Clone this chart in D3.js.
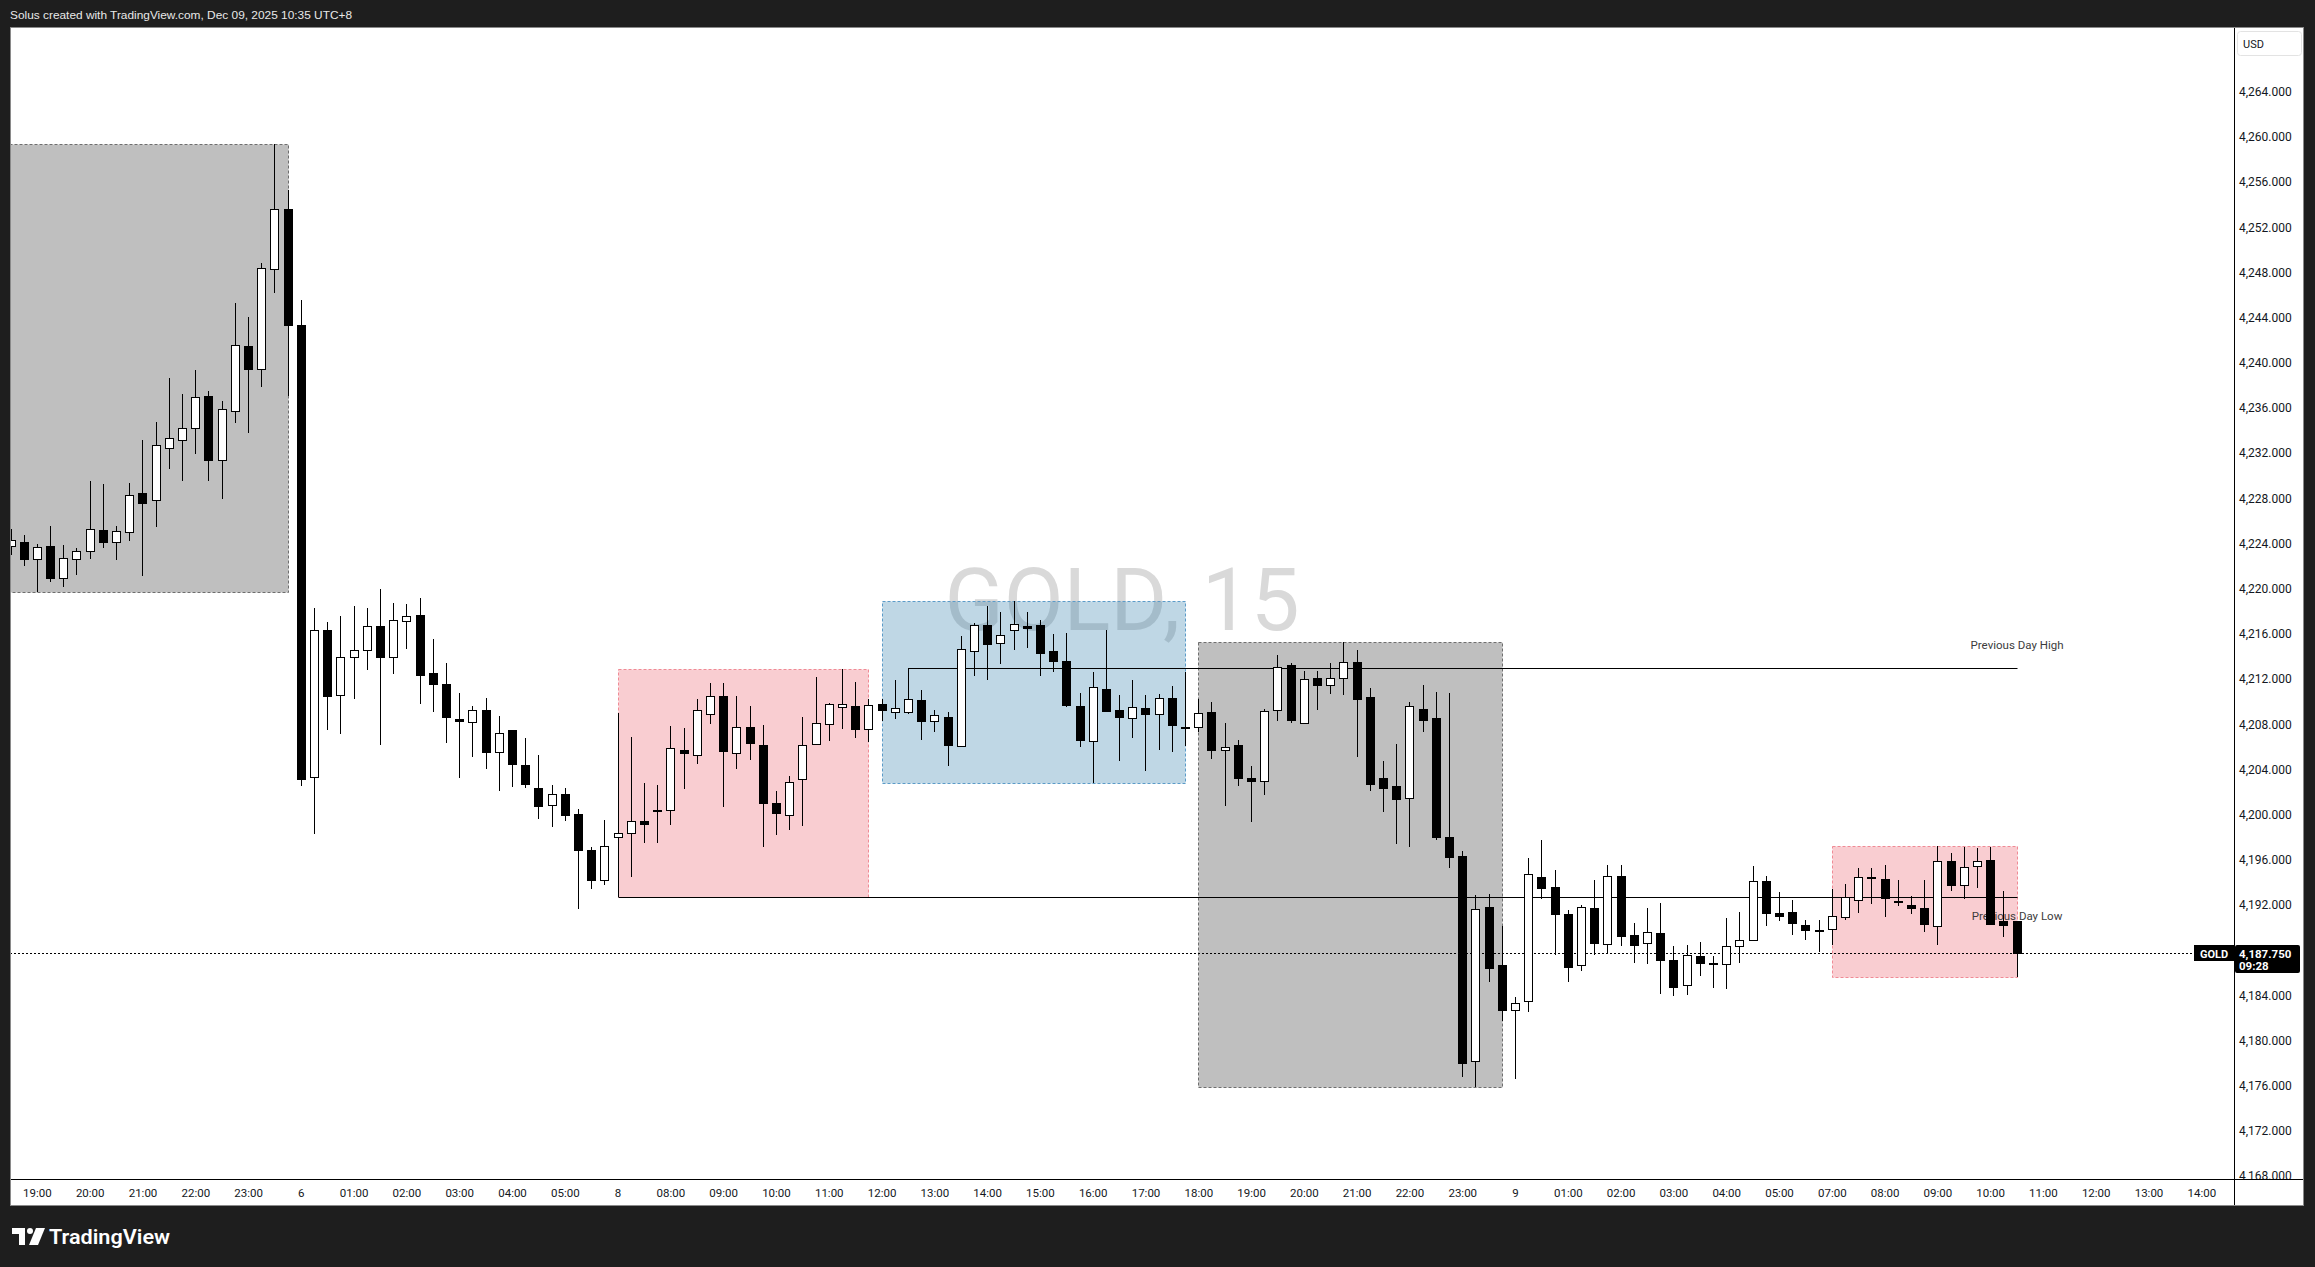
<!DOCTYPE html>
<html><head><meta charset="utf-8">
<script src="https://cdn.jsdelivr.net/npm/d3@7"></script>
<style>html,body{margin:0;padding:0;background:#1e1e1e;overflow:hidden}svg{display:block}</style>
</head><body><svg id="c" width="2315" height="1267"></svg>
<script>
// ---------------- DATA ----------------
const headerText = "Solus created with TradingView.com, Dec 09, 2025 10:35 UTC+8";
const symbol = "GOLD";
const interval = "15";
const currency = "USD";
const lastPrice = 4187.75;
const countdown = "09:28";
const firstBar = -2; // bar index of first candle (0 = Dec 5 19:00, 15-min bars)

const opens = [4223.79,4224.15,4222.61,4223.79,4220.94,4222.61,4223.34,4225.17,4224.11,4225.01,
 4228.47,4227.86,4232.46,4233.19,4234.21,4237.06,4231.40,4235.75,4241.49,4239.46,
 4248.33,4253.62,4243.32,4203.34,4216.38,4210.60,4213.96,4214.58,4216.67,4213.96,
 4217.15,4217.65,4212.57,4211.60,4208.50,4208.23,4209.30,4205.55,4207.53,4204.43,
 4202.39,4200.86,4201.86,4200.09,4196.90,4194.22,4198.05,4198.41,4199.47,4200.44,
 4200.41,4205.76,4205.23,4208.94,4210.54,4205.46,4207.79,4206.20,4201.06,4200.00,
 4203.19,4206.29,4208.06,4209.56,4209.65,4207.62,4209.83,4209.12,4209.12,4210.18,
 4208.32,4208.68,4206.11,4214.52,4216.82,4215.17,4216.38,4216.68,4216.82,4214.52,
 4213.64,4209.65,4206.52,4211.16,4209.30,4208.59,4209.47,4208.86,4210.36,4207.79,
 4207.71,4209.12,4205.76,4206.20,4203.28,4202.98,4209.30,4213.22,4208.15,4212.13,
 4211.51,4212.10,4213.55,4210.45,4203.28,4202.57,4201.51,4209.39,4208.59,4197.99,
 4196.37,4178.14,4191.80,4186.64,4182.68,4183.45,4194.51,4193.57,4191.24,4186.72,
 4191.77,4188.58,4194.60,4189.38,4188.67,4189.55,4187.16,4184.95,4187.52,4186.90,
 4186.81,4188.40,4188.93,4194.16,4191.27,4191.35,4190.26,4189.82,4189.91,4190.94,
 4192.45,4194.51,4194.33,4192.39,4192.03,4191.71,4190.17,4195.93,4193.80,4195.49,
 4196.02,4190.62,4190.56];
const highs = [4225.25,4224.77,4223.99,4225.58,4223.91,4223.63,4229.57,4229.28,4225.58,4229.37,
 4233.19,4234.78,4238.64,4237.26,4239.34,4237.46,4236.65,4245.32,4244.02,4248.82,
 4259.40,4255.29,4245.60,4218.27,4217.03,4217.56,4218.45,4218.27,4219.95,4218.71,
 4218.62,4219.15,4215.52,4213.40,4210.74,4209.65,4210.30,4208.71,4207.53,4206.76,
 4205.25,4202.60,4202.39,4200.47,4197.11,4199.50,4208.95,4206.85,4202.78,4202.66,
 4207.82,4207.65,4210.21,4211.63,4211.63,4210.48,4209.59,4207.97,4202.07,4203.45,
 4208.68,4212.22,4209.92,4212.93,4211.72,4210.27,4210.27,4211.90,4213.02,4211.01,
 4209.30,4209.12,4215.85,4217.00,4218.45,4217.97,4218.95,4217.92,4217.27,4216.03,
 4216.11,4210.80,4212.60,4216.38,4210.57,4211.90,4210.57,4210.66,4211.36,4212.60,
 4210.21,4209.95,4208.09,4206.64,4204.34,4209.36,4214.11,4213.46,4212.69,4212.69,
 4213.46,4215.32,4214.55,4211.19,4204.73,4206.29,4210.01,4211.45,4210.83,4210.75,
 4196.76,4192.92,4193.01,4190.12,4183.83,4196.13,4197.73,4195.07,4191.53,4191.97,
 4194.19,4195.51,4195.51,4190.38,4191.71,4192.15,4188.40,4188.49,4188.76,4187.52,
 4190.88,4191.35,4195.43,4194.54,4193.12,4192.42,4190.65,4190.65,4193.39,4193.83,
 4195.25,4195.25,4195.51,4194.19,4192.80,4194.19,4197.20,4196.58,4197.14,4197.02,
 4197.14,4193.21,4190.56];
const lows = [4222.97,4222.04,4219.68,4220.57,4220.13,4221.18,4222.61,4223.59,4222.53,4224.20,
 4221.10,4225.46,4230.59,4229.53,4231.93,4229.57,4227.94,4234.66,4233.76,4237.83,
 4246.17,4237.02,4202.50,4198.29,4207.47,4207.11,4210.24,4212.81,4206.17,4212.46,
 4214.67,4209.80,4209.09,4206.35,4203.25,4205.11,4204.04,4202.10,4202.45,4202.36,
 4199.62,4198.91,4199.44,4191.65,4193.42,4193.77,4192.67,4194.48,4197.49,4197.49,
 4199.09,4202.27,4204.49,4208.03,4200.68,4204.05,4204.84,4197.14,4198.20,4198.64,
 4199.00,4206.20,4206.52,4207.59,4206.79,4206.44,4208.32,4208.47,4208.90,4206.61,
 4207.32,4204.31,4206.00,4212.28,4211.87,4213.34,4214.58,4214.76,4212.28,4212.66,
 4209.53,4206.00,4202.81,4209.09,4204.75,4206.79,4203.87,4205.73,4205.55,4206.08,
 4207.29,4204.93,4200.77,4202.54,4199.35,4201.74,4208.30,4208.12,4208.15,4209.27,
 4210.66,4210.60,4205.11,4202.07,4200.24,4197.41,4197.14,4207.32,4197.73,4195.28,
 4176.78,4175.86,4185.19,4181.74,4176.60,4182.53,4192.56,4187.61,4185.19,4186.16,
 4187.55,4187.72,4188.34,4186.87,4186.78,4184.12,4183.95,4184.03,4185.72,4184.65,
 4184.57,4186.87,4188.93,4190.11,4190.56,4189.32,4188.90,4187.84,4188.43,4190.65,
 4191.27,4192.06,4190.91,4191.88,4191.18,4189.58,4188.43,4193.24,4192.56,4193.51,
 4190.32,4189.17,4185.66];
const closes = [4224.28,4222.61,4223.71,4220.94,4222.69,4223.34,4225.25,4224.11,4225.09,4228.27,
 4227.57,4232.70,4233.35,4234.21,4236.98,4231.40,4235.92,4241.57,4239.46,4248.41,
 4253.62,4243.37,4203.19,4216.38,4210.48,4213.99,4214.61,4216.73,4213.96,4217.27,
 4217.62,4212.37,4211.57,4208.65,4208.32,4209.30,4205.55,4207.26,4204.49,4202.72,
 4200.77,4201.86,4199.97,4196.87,4194.22,4197.26,4198.41,4199.47,4199.17,4200.44,
 4205.93,4205.46,4209.30,4210.54,4205.64,4207.79,4206.35,4201.06,4200.15,4202.92,
 4206.20,4208.15,4209.83,4209.83,4207.59,4209.74,4209.27,4209.47,4210.27,4208.32,
 4208.83,4206.20,4214.67,4216.82,4215.14,4215.94,4216.91,4216.56,4214.34,4213.61,
 4209.71,4206.61,4211.30,4209.18,4208.68,4209.56,4208.86,4210.36,4207.94,4207.79,
 4209.03,4205.73,4206.02,4203.28,4202.98,4209.21,4213.08,4208.38,4211.96,4211.48,
 4212.13,4213.55,4210.24,4202.72,4202.36,4201.39,4209.57,4208.38,4197.99,4196.26,
 4178.02,4191.68,4186.43,4182.74,4183.33,4194.78,4193.51,4191.21,4186.51,4191.86,
 4188.64,4194.60,4189.29,4188.46,4189.64,4187.13,4184.74,4187.58,4186.87,4186.78,
 4188.40,4188.93,4194.16,4191.30,4191.03,4190.41,4189.79,4189.82,4191.06,4192.74,
 4194.51,4194.51,4192.59,4192.27,4191.74,4190.32,4195.93,4193.80,4195.40,4195.93,
 4190.32,4190.23,4187.75];

// time-axis tick labels (one per hour, 4 bars apart)
const timeLabels = ["19:00","20:00","21:00","22:00","23:00","6","01:00","02:00","03:00","04:00","05:00","8",
 "08:00","09:00","10:00","11:00","12:00","13:00","14:00","15:00","16:00","17:00","18:00","19:00","20:00",
 "21:00","22:00","23:00","9","01:00","02:00","03:00","04:00","05:00","07:00","08:00","09:00","10:00",
 "11:00","12:00","13:00","14:00"];
const timeTickBars = [0,4,8,12,16,20,24,28,32,36,40,44,48,52,56,60,64,68,72,76,80,84,88,92,96,100,
 104,108,112,116,120,124,128,132,136,140,144,148,152,156,160,164];
const priceTicks = [4168,4172,4176,4180,4184,4188,4192,4196,4200,4204,4208,4212,4216,4220,4224,4228,
 4232,4236,4240,4244,4248,4252,4256,4260,4264];

// session boxes (bar index range)
const sessionStart = [-4, 44, 64, 88, 136];
const sessionEnd   = [19, 63, 87, 111, 150];
const sessionKind  = ["ny","asia","london","ny","asia"];

// previous day levels
const levelNames = ["Previous Day High","Previous Day Low"];
const levelValues = [4213.02, 4192.67];
const levelStart = [66, 44];
const levelEnd = [150, 150];

// ---------------- DRAW ----------------
const W=2315,H=1267;
const PL=10, PR=2234, PT=27, PB=1179, PANR=2304, PANB=1206;
const x = d3.scaleLinear().domain([0,164]).range([36.9,2201.3]);
const y = d3.scaleLinear().domain([4168,4264]).range([1176.0,91.7]);
const FONT = "Roboto, 'Liberation Sans', Arial, sans-serif";
const sessColor = {
  ny:{fill:"#bfbfbf", op:1, stroke:"#6e6e6e"},
  asia:{fill:"rgb(235,88,102)", op:0.3, stroke:"#f08a95"},
  london:{fill:"rgb(42,122,168)", op:0.3, stroke:"#5b9bc8"}
};

const svg = d3.select("#c");
svg.append("rect").attr("width",W).attr("height",H).attr("fill","#1e1e1e");
svg.append("text").attr("x",10).attr("y",18.5).attr("fill","#e8e8e8")
  .attr("font-family","'Liberation Sans', Arial, sans-serif").attr("font-size",11.3)
  .attr("textLength",342).attr("lengthAdjust","spacingAndGlyphs").text(headerText);

svg.append("rect").attr("x",PL).attr("y",PT).attr("width",PANR-PL).attr("height",PANB-PT)
  .attr("fill","#ffffff");

const defs = svg.append("defs");
defs.append("clipPath").attr("id","plot").append("rect")
  .attr("x",PL).attr("y",PT).attr("width",PR-PL).attr("height",PB-PT);
defs.append("clipPath").attr("id","raxis").append("rect")
  .attr("x",PR).attr("y",PT).attr("width",PANR-PR).attr("height",PB-PT);

const g = svg.append("g").attr("clip-path","url(#plot)");

// watermark
g.append("text").attr("x",1122).attr("y",630).attr("text-anchor","middle")
  .attr("font-family",FONT).attr("font-size",87).attr("fill","#d9d9d9")
  .text(symbol + ", " + interval);

const bars = opens.map((o,k)=>({i:k+firstBar,o:o,h:highs[k],l:lows[k],c:closes[k]}));

// session boxes
const sessions = sessionStart.map((s,k)=>{
  const inside = bars.filter(b=>b.i>=s && b.i<=sessionEnd[k]);
  return {s:s, e:sessionEnd[k], kind:sessionKind[k],
          top:d3.max(inside,b=>b.h), bot:d3.min(inside,b=>b.l)};
});
g.selectAll("rect.sess").data(sessions).join("rect").attr("class","sess")
  .attr("x",d=>Math.round(x(d.s))+0.5)
  .attr("y",d=>Math.round(y(d.top))+0.5)
  .attr("width",d=>Math.round(x(d.e))-Math.round(x(d.s)))
  .attr("height",d=>Math.round(y(d.bot))-Math.round(y(d.top)))
  .attr("fill",d=>sessColor[d.kind].fill).attr("fill-opacity",d=>sessColor[d.kind].op)
  .attr("stroke",d=>sessColor[d.kind].stroke).attr("stroke-width",1)
  .attr("stroke-dasharray","3,2");

// previous day levels
const levels = levelNames.map((n,k)=>({name:n,v:levelValues[k],s:levelStart[k],e:levelEnd[k],k:k}));
g.selectAll("line.lvl").data(levels).join("line").attr("class","lvl")
  .attr("x1",d=>Math.round(x(d.s))+0.5).attr("x2",d=>Math.round(x(d.e))+0.5)
  .attr("y1",d=>Math.round(y(d.v))+0.5).attr("y2",d=>Math.round(y(d.v))+0.5)
  .attr("stroke","#000").attr("stroke-width",1);
g.selectAll("text.lvl").data(levels).join("text").attr("class","lvl")
  .attr("x",d=>x(d.e)+0.5).attr("y",d=>d.k===0 ? y(d.v)-19 : y(d.v)+23)
  .attr("text-anchor","middle").attr("font-family",FONT).attr("font-size",11.5)
  .attr("fill","#3c3c3c").text(d=>d.name);

// last price dotted line
g.append("line").attr("x1",PL).attr("x2",PR)
  .attr("y1",Math.round(y(lastPrice))+0.5).attr("y2",Math.round(y(lastPrice))+0.5)
  .attr("stroke","#000").attr("stroke-width",1).attr("stroke-dasharray","2,2");

// candles
const cg = g.append("g");
const cand = cg.selectAll("g.c").data(bars).join("g").attr("class","c");
cand.append("line")
  .attr("x1",d=>Math.round(x(d.i))+0.5).attr("x2",d=>Math.round(x(d.i))+0.5)
  .attr("y1",d=>Math.round(y(d.h))).attr("y2",d=>Math.round(y(d.l)))
  .attr("stroke","#000").attr("stroke-width",1);
cand.append("rect")
  .attr("x",d=>Math.round(x(d.i))-4+0.5).attr("width",8)
  .attr("y",d=>Math.round(y(Math.max(d.o,d.c)))+0.5)
  .attr("height",d=>Math.max(1,Math.round(y(Math.min(d.o,d.c)))-Math.round(y(Math.max(d.o,d.c)))))
  .attr("fill",d=>d.c>=d.o?"#ffffff":"#000000").attr("stroke","#000").attr("stroke-width",1);

// right price axis
const ra = svg.append("g").attr("clip-path","url(#raxis)").append("g")
  .attr("transform",`translate(${PR},0)`)
  .call(d3.axisRight(y).tickValues(priceTicks).tickFormat(d3.format(",.3f")).tickSize(0).tickPadding(5));
ra.select(".domain").remove();
ra.selectAll("text").attr("font-family",FONT).attr("font-size",12).attr("fill","#131722");

// bottom time axis
const ba = svg.append("g").attr("transform",`translate(0,${PB})`)
  .call(d3.axisBottom(x).tickValues(timeTickBars).tickFormat((d,k)=>timeLabels[k]).tickSize(0).tickPadding(10));
ba.select(".domain").remove();
ba.selectAll("text").attr("font-family",FONT).attr("font-size",11.5).attr("fill","#131722");

// separators
svg.append("line").attr("x1",PL).attr("x2",PANR).attr("y1",PB+0.5).attr("y2",PB+0.5).attr("stroke","#000");
svg.append("line").attr("x1",PR+0.5).attr("x2",PR+0.5).attr("y1",PT).attr("y2",PANB).attr("stroke","#000");
svg.append("rect").attr("x",PL+0.5).attr("y",PT+0.5).attr("width",PANR-PL-1).attr("height",PANB-PT-1)
  .attr("fill","none").attr("stroke","#8a8a8a");

// currency box
svg.append("rect").attr("x",2237.5).attr("y",31.5).attr("width",64).attr("height",24).attr("rx",3)
  .attr("fill","#fff").attr("stroke","#e3e3e3");
svg.append("text").attr("x",2243).attr("y",47.5).attr("font-family",FONT).attr("font-size",11)
  .attr("fill","#131722").text(currency);

// last price label
const yp = Math.round(y(lastPrice));
svg.append("rect").attr("x",2194).attr("y",yp-8).attr("width",40).attr("height",16).attr("fill","#000");
svg.append("text").attr("x",2214).attr("y",yp+4.5).attr("text-anchor","middle").attr("font-family",FONT)
  .attr("font-size",11).attr("font-weight","bold").attr("fill","#fff").text(symbol);
svg.append("rect").attr("x",2235).attr("y",yp-8).attr("width",65).attr("height",28).attr("rx",2).attr("fill","#000");
svg.append("text").attr("x",2239).attr("y",yp+4.5).attr("font-family",FONT).attr("font-size",11.5)
  .attr("font-weight","bold").attr("fill","#fff").text(d3.format(",.3f")(lastPrice));
svg.append("text").attr("x",2239).attr("y",yp+17).attr("font-family",FONT).attr("font-size",11.5)
  .attr("font-weight","bold").attr("fill","#fff").text(countdown);

// TradingView logo
const lg = svg.append("g").attr("fill","#ffffff");
lg.append("path").attr("d","M12,1228 H25 V1245 H19 V1234 H12 Z");
lg.append("circle").attr("cx",30).attr("cy",1231).attr("r",3);
lg.append("path").attr("d","M36,1228 H45 L38,1245 H29 Z");
svg.append("text").attr("x",49).attr("y",1244).attr("font-family",FONT).attr("font-size",20)
  .attr("font-weight","600").attr("fill","#fff").attr("textLength",121).attr("lengthAdjust","spacingAndGlyphs")
  .text("TradingView");
</script></body></html>
